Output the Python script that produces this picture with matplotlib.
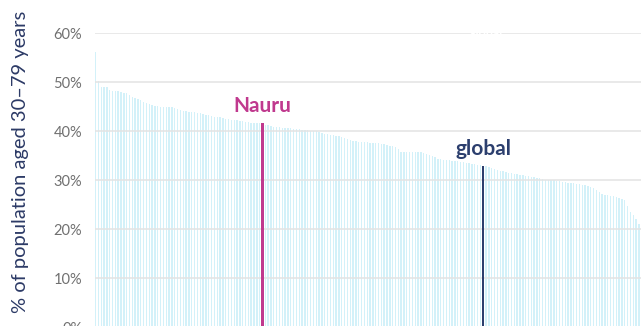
import matplotlib
matplotlib.use("Agg")
import matplotlib.pyplot as plt
from matplotlib.ticker import FuncFormatter

plt.rcParams['font.family'] = ['Lato', 'DejaVu Sans']

# share of population aged 30-79 (%), countries sorted high -> low
values = [
    56.2, 50.2, 49.0, 48.9, 48.9, 48.4, 48.2, 48.2, 48.2, 48.0,
    47.8, 47.7, 47.4, 47.0, 46.8, 46.5, 46.3, 46.0, 45.8, 45.6,
    45.4, 45.2, 45.1, 45.0, 45.0, 45.0, 44.9, 44.9, 44.6, 44.4,
    44.3, 44.1, 44.0, 43.9, 43.9, 43.8, 43.7, 43.6, 43.4, 43.3,
    43.2, 43.0, 42.9, 42.8, 42.8, 42.6, 42.5, 42.4, 42.3, 42.2,
    42.2, 42.1, 42.0, 41.9, 41.8, 41.7, 41.7, 41.7, 41.6, 41.6,
    41.3, 41.2, 41.0, 40.9, 40.8, 40.8, 40.7, 40.7, 40.6, 40.6,
    40.5, 40.5, 40.4, 40.3, 40.3, 40.2, 40.1, 40.0, 39.9, 39.7,
    39.6, 39.4, 39.3, 39.2, 39.1, 39.0, 38.9, 38.7, 38.5, 38.3,
    38.2, 38.0, 37.9, 37.8, 37.8, 37.7, 37.7, 37.6, 37.6, 37.5,
    37.5, 37.4, 37.3, 37.2, 37.0, 36.9, 36.7, 36.4, 35.8, 35.8,
    35.8, 35.8, 35.8, 35.8, 35.7, 35.7, 35.5, 35.3, 35.1, 34.9,
    34.6, 34.3, 34.2, 34.1, 34.0, 34.0, 33.9, 33.9, 33.8, 33.7,
    33.6, 33.5, 33.4, 33.3, 33.2, 33.1, 33.0, 32.9, 32.8, 32.6,
    32.4, 32.2, 32.0, 31.9, 31.8, 31.6, 31.5, 31.4, 31.3, 31.2,
    31.1, 31.0, 30.9, 30.8, 30.7, 30.6, 30.5, 30.4, 30.2, 30.1,
    30.0, 29.9, 29.9, 29.8, 29.7, 29.6, 29.5, 29.4, 29.4, 29.3,
    29.2, 29.1, 29.0, 28.9, 28.7, 28.6, 28.3, 27.9, 27.6, 27.2,
    27.0, 26.9, 26.8, 26.7, 26.5, 26.3, 26.1, 25.9, 24.6, 23.5,
    22.9, 22.0, 21.0, 20.4,
]
nauru_idx = 59
global_idx = 137
yticks = [0, 10, 20, 30, 40, 50, 60]

bar_col = "#d3f1f9"
nauru_col = "#c0398e"
global_col = "#2c3f6e"

fig = plt.figure(figsize=(6.41, 3.26), dpi=100)
ax = fig.add_axes([0.1477, -0.00307, 0.8523, 0.9018])

xs = list(range(len(values)))
ax.bar(xs, values, width=0.48, color=bar_col, zorder=1, linewidth=0)

# highlighted bars
ax.bar(nauru_idx, values[nauru_idx], width=0.75, color=nauru_col, zorder=3, linewidth=0)
ax.bar(global_idx, values[global_idx], width=0.75, color=global_col, zorder=3, linewidth=0)

ax.text(nauru_idx, values[nauru_idx] + 2.2, "Nauru", color=nauru_col,
        fontsize=15, fontweight="bold", ha="center", va="baseline", zorder=4)
ax.text(global_idx, values[global_idx] + 2.2, "global", color=global_col,
        fontsize=15, fontweight="bold", ha="center", va="baseline", zorder=4)
# faint white label at top
ax.text(global_idx + 1, 60, "global", color="white", fontsize=9,
        fontweight="bold", ha="center", va="center", zorder=4, clip_on=False)

ax.set_xlim(-0.3, -0.3 + 546.35 / 2.83)
ax.set_ylim(0, 60)
ax.set_yticks(yticks)
ax.yaxis.set_major_formatter(FuncFormatter(lambda v, p: "%d%%" % v))
ax.tick_params(axis="y", length=0, pad=9, labelsize=10.5, labelcolor="#707070")
ax.set_xticks([])
for s in ax.spines.values():
    s.set_visible(False)
for t in yticks:
    ax.axhline(t, color="#e3e3e3", lw=1.1, zorder=2)

fig.text(21 / 641, (326 - 162) / 326, "% of population aged 30–79 years",
         rotation=90, ha="center", va="center", fontsize=14.5, color="#2c3a66")

fig.savefig("out.png", dpi=100)
